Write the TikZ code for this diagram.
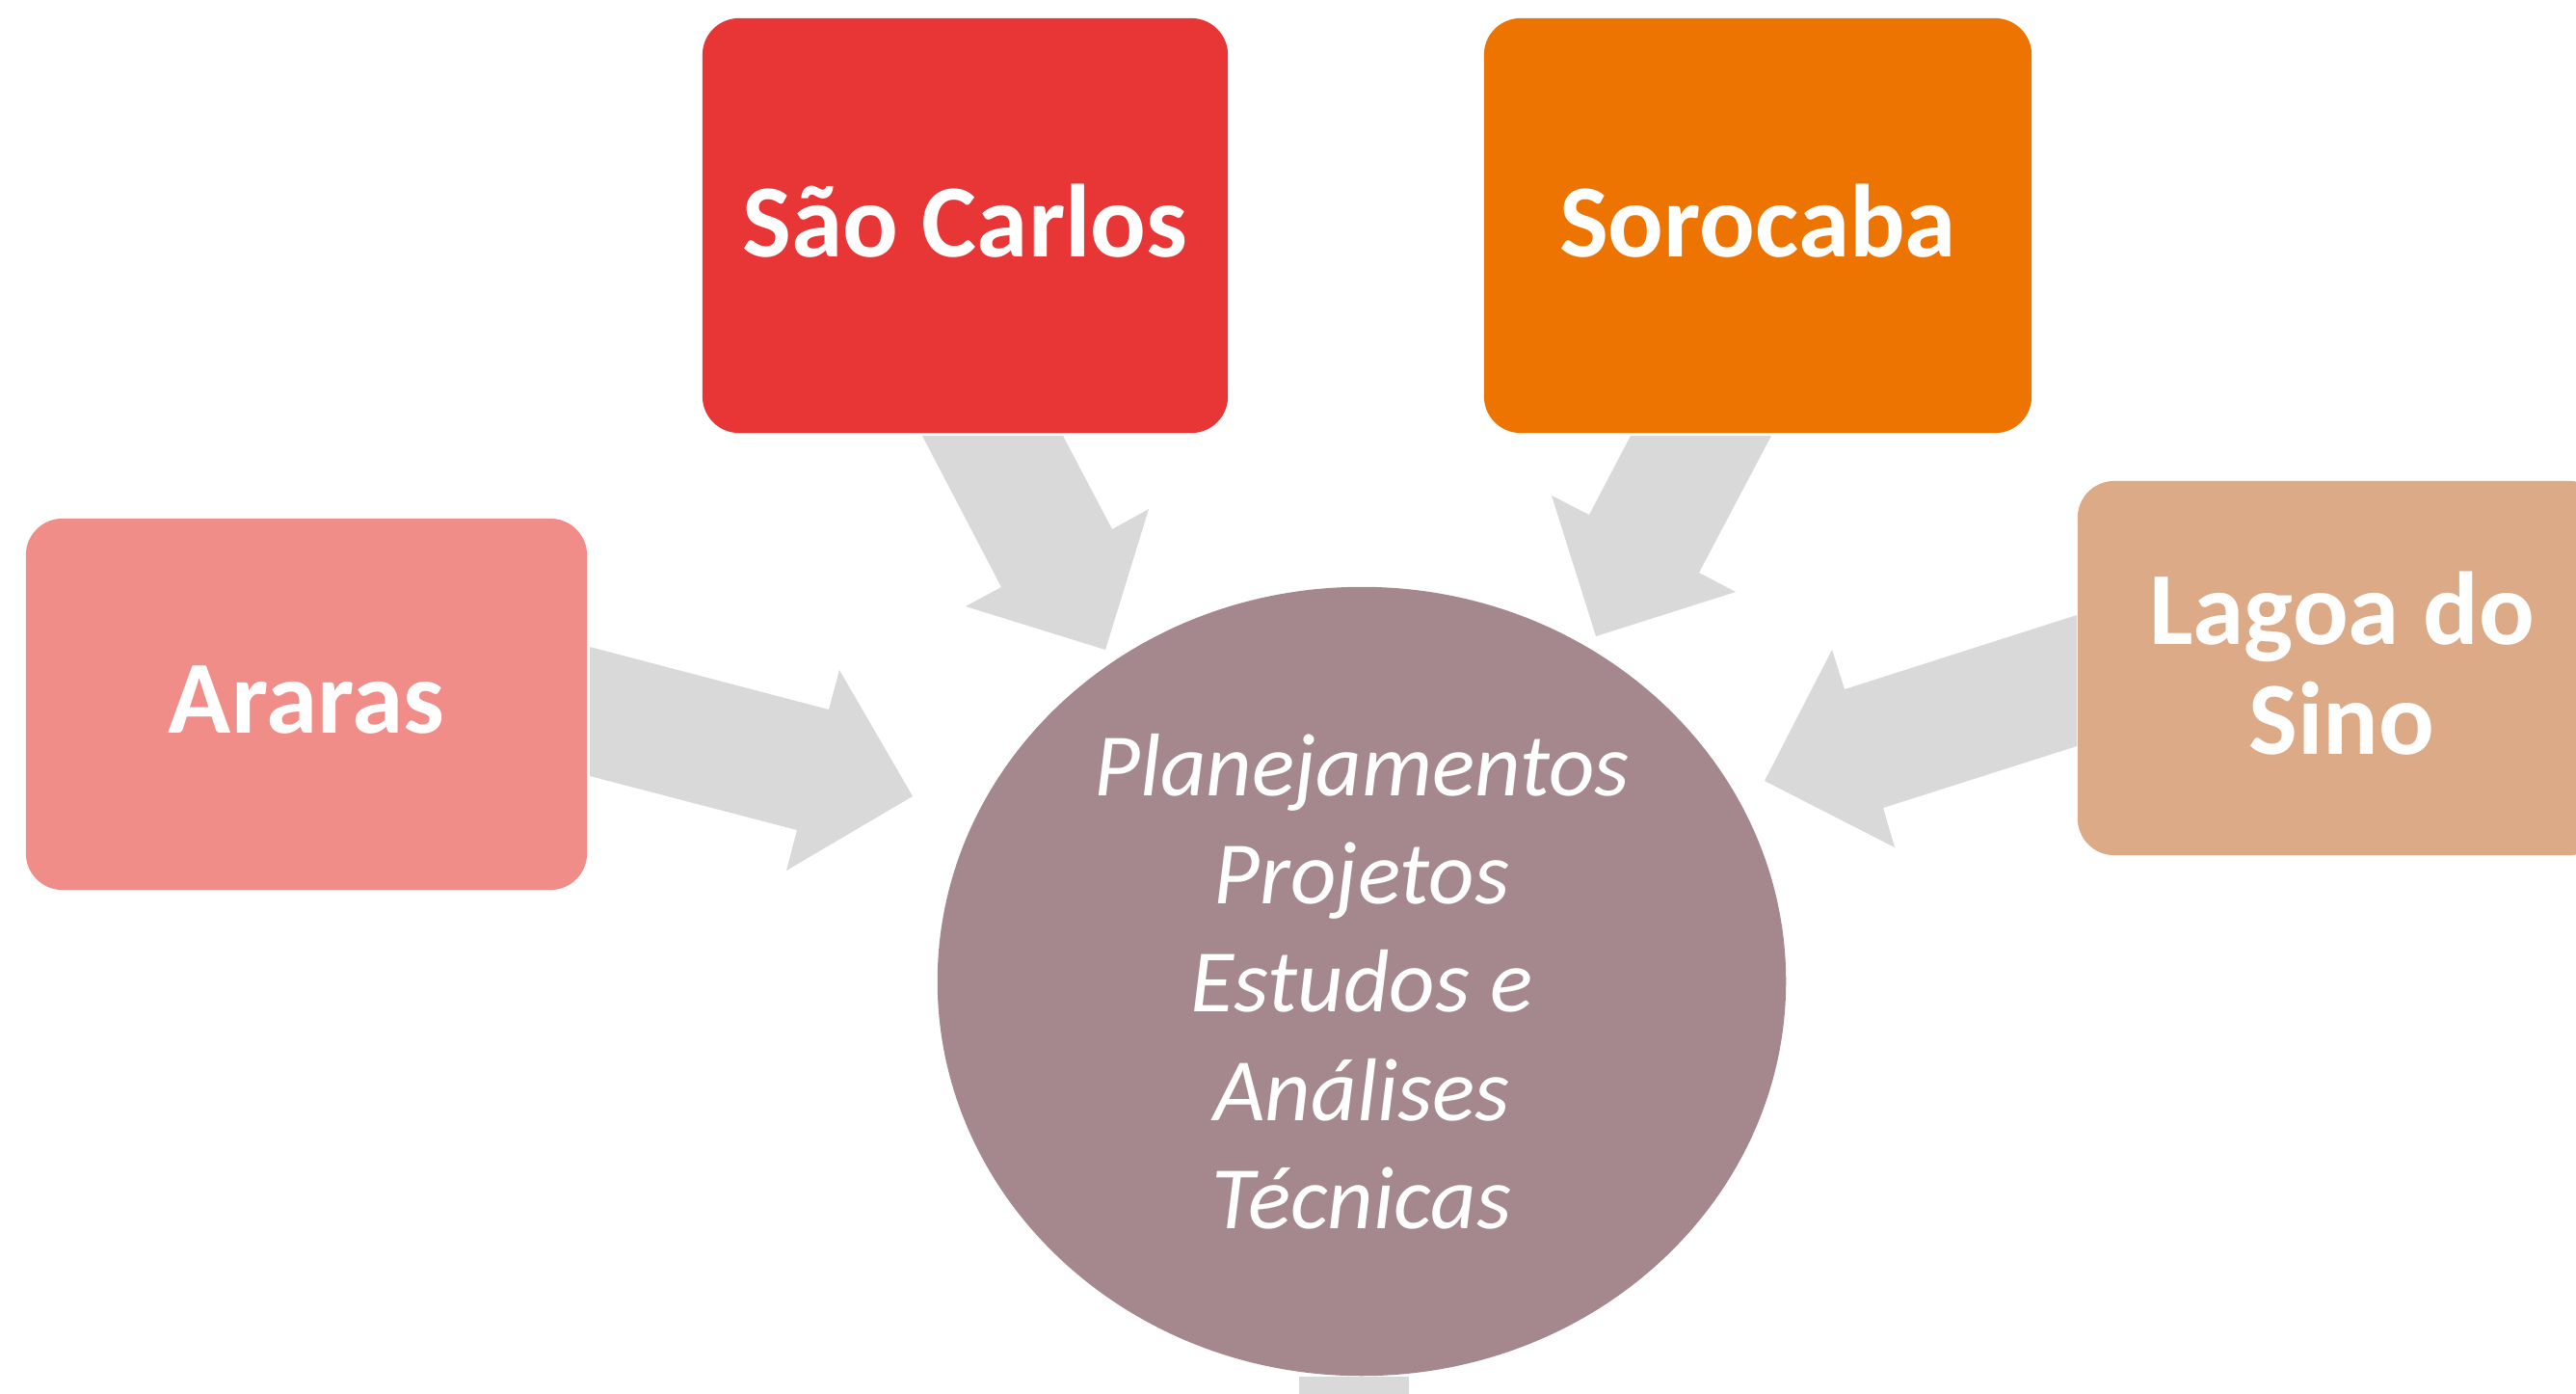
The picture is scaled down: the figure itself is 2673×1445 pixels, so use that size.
\documentclass[tikz,border=0pt]{standalone}
\usepackage{fontspec}
\setmainfont{Carlito}
\usetikzlibrary{shapes.geometric}
\definecolor{scred}{RGB}{232,54,55}
\definecolor{sorange}{RGB}{238,116,2}
\definecolor{arpink}{RGB}{241,141,137}
\definecolor{lagtan}{RGB}{221,170,135}
\definecolor{hubmauve}{RGB}{165,136,142}
\definecolor{flowgray}{RGB}{217,217,217}
\begin{document}
\begin{tikzpicture}[x=0.01cm,y=-0.01cm,
  cityBox/.style={rectangle, rounded corners=0.38cm, inner sep=0pt, outer sep=0pt,
    text=white, align=center, text depth=0.1cm,
    font=\fontsize{30.6pt}{32.4pt}\selectfont\bfseries},
  flow/.style={fill=flowgray, draw=none},
  hubshape/.style={ellipse, fill=hubmauve, inner sep=0pt, outer sep=0pt,
    minimum width=8.8cm, minimum height=8.18cm,
    text=white, align=center,
    font=\fontsize{26.3pt}{31.95pt}\selectfont\itshape}]
\useasboundingbox (0,0) rectangle (2673,1445);
\clip (0,0) rectangle (2673,1445);
\fill[white] (0,0) rectangle (2673,1445);

% block arrows
\fill[flow] (957,452) -- (1103,452) -- (1154,549) -- (1192,528) -- (1147,674) -- (1002,629) -- (1039,609) -- cycle;
\fill[flow] (1692,452) -- (1838,452) -- (1763,594) -- (1801,614) -- (1656,660) -- (1610,514) -- (1649,534) -- cycle;
\fill[flow] (612,671) -- (860,736) -- (871,695) -- (947,826) -- (816,903) -- (827,861) -- (612,805) -- cycle;
\fill[flow] (2155,638) -- (1914,715) -- (1901,674) -- (1831,810) -- (1966,879) -- (1954,838) -- (2155,774) -- cycle;
\fill[flow] (1348,1428) rectangle (1462,1470);

% boxes
\node[cityBox, fill=scred, minimum width=5.45cm, minimum height=4.30cm] (saocarlos) at (1001.5,234) {São Carlos};
\node[cityBox, fill=sorange, minimum width=5.68cm, minimum height=4.30cm] (sorocaba) at (1824,234) {Sorocaba};
\node[cityBox, fill=arpink, minimum width=5.82cm, minimum height=3.85cm] (araras) at (318,730.5) {Araras};
\node[cityBox, fill=lagtan, minimum width=5.48cm, minimum height=3.88cm] (lagoa) at (2430,693) {Lagoa do\\Sino};

% hub
\node[hubshape] (hub) at (1413,1018) {Planejamentos\\Projetos\\Estudos e\\Análises\\Técnicas};
\end{tikzpicture}
\end{document}
